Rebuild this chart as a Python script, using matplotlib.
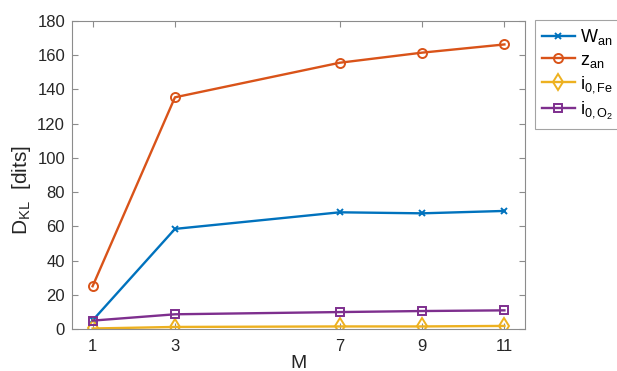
import matplotlib
matplotlib.use("Agg")
import matplotlib.pyplot as plt

M = [1, 3, 7, 9, 11]
w_an = [5.0, 58.5, 68.2, 67.6, 69.0]
z_an = [25.0, 135.4, 155.6, 161.5, 166.3]
i0_fe = [0.3, 1.2, 1.5, 1.5, 1.8]
i0_o2 = [4.9, 8.6, 9.9, 10.5, 10.9]

x_ticks = [1, 3, 7, 9, 11]
y_ticks = list(range(0, 181, 20))

COLORS = {
    "w": "#0072BD",
    "z": "#D95319",
    "fe": "#EDB120",
    "o2": "#7E2F8E",
    "axis": "#8C8C8C",
    "text": "#262626",
}

plt.rcParams["font.family"] = ["Liberation Sans", "DejaVu Sans"]
plt.rcParams["mathtext.fontset"] = "custom"
plt.rcParams["mathtext.rm"] = "Liberation Sans"
plt.rcParams["mathtext.it"] = "Liberation Sans"

fig = plt.figure(figsize=(6.17, 3.71), dpi=100, facecolor="white")
ax = fig.add_axes([0.1167, 0.1132, 0.7342, 0.8302])

style = dict(linewidth=1.7, markersize=6.5, markerfacecolor="none", markeredgewidth=1.4)
ax.plot(M, w_an, marker="x", color=COLORS["w"], label=r"$\mathrm{W_{an}}$",
        **{**style, "markersize": 5})
ax.plot(M, z_an, marker="o", color=COLORS["z"], label=r"$\mathrm{z_{an}}$", **style)
ax.plot(M, i0_fe, marker="d", color=COLORS["fe"], label=r"$\mathrm{i_{0,Fe}}$",
        **{**style, "markersize": 8.5})
ax.plot(M, i0_o2, marker="s", color=COLORS["o2"], label=r"$\mathrm{i_{0,O_2}}$",
        **{**style, "markersize": 6})

ax.set_xlim(0.5, 11.5)
ax.set_ylim(0, 180)
ax.set_xticks(x_ticks)
ax.set_yticks(y_ticks)
ax.tick_params(direction="in", top=True, right=True, length=4, width=0.8,
               color=COLORS["axis"], labelsize=12, labelcolor=COLORS["text"])
ax.tick_params(axis="x", pad=7)
ax.tick_params(axis="y", pad=5)
for spine in ax.spines.values():
    spine.set_edgecolor(COLORS["axis"])
    spine.set_linewidth(0.8)

ax.set_xlabel("M", fontsize=14, color=COLORS["text"], labelpad=1)
ax.set_ylabel(r"$\mathrm{D_{KL}}$  [dits]", fontsize=15, color=COLORS["text"])
ax.yaxis.set_label_coords(-0.085, 0.45)

leg = ax.legend(loc="upper left", bbox_to_anchor=(535 / 617, 1 - 20 / 371),
                bbox_transform=fig.transFigure, fontsize=13, frameon=True,
                fancybox=False, handlelength=1.8, borderaxespad=0, labelspacing=0.25,
                handletextpad=0.3, borderpad=0.4)
leg.get_frame().set_edgecolor(COLORS["axis"])
leg.get_frame().set_linewidth(0.8)

fig.savefig("out.png", dpi=100)
